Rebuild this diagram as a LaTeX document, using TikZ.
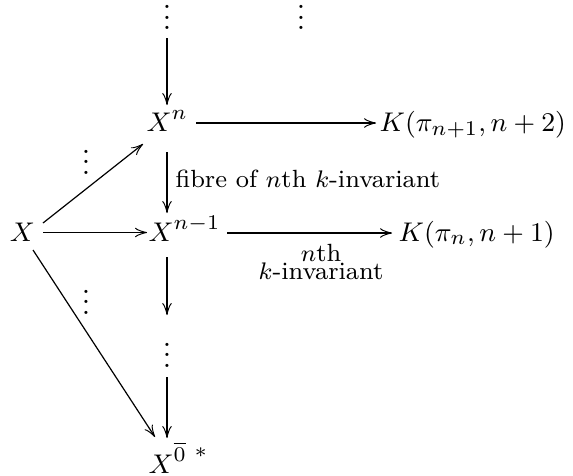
\documentclass[tikz,border=0pt]{standalone}
\usetikzlibrary{calc,arrows.meta}
\newcommand{\myvdots}{\vbox{\baselineskip3.5pt\lineskiplimit0pt\hbox{.}\hbox{.}\hbox{.}}}
\tikzset{
  obj/.style={inner sep=0pt, anchor=base west, font=\fontsize{9.5}{11}\selectfont},
  dotsnode/.style={inner sep=0pt, anchor=center},
  arr/.style={line width=0.4pt, -{Classical TikZ Rightarrow[length=4pt,width=3.2pt]}},
  lbl/.style={inner sep=0pt, font=\fontsize{8.3}{6}\selectfont}
}
\begin{document}
\begin{tikzpicture}[x=0.33333pt, y=-0.33333pt]
\useasboundingbox (0,0) rectangle (573,475);
% dots
\node[dotsnode] (d1) at (167,17.5) {\myvdots};
\node[dotsnode] (d2) at (301,17.5) {\myvdots};
\node[dotsnode] (d3) at (167,355) {\myvdots};
\node[dotsnode] (d4) at (86,162) {\myvdots};
\node[dotsnode] (d5) at (86,302) {\myvdots};
% objects
\node[obj, anchor=base] (Xl) at (22.5,241) {$X$};
\node[obj] (Xn) at (146,131) {$X^n$};
\node[obj] (Xn1) at (148,241) {$X^{n-1}$};
\node[obj] (X0) at (148,473) {$X^{\overline{0}\hspace{3pt}\raisebox{1.4pt}{$\scriptstyle *$}}$};
\node[obj] (K1) at (379,131) {$K(\pi_{n+1},n+2)$};
\node[obj] (K2) at (398,241) {$K(\pi_n,n+1)$};
% vertical arrows
\draw[arr] ($(d1)+(0,20.5)$) -- ($(Xn.base -| d1)+(0,-26)$);
\draw[arr] ($(Xn.base -| d1)+(0,21)$) -- ($(Xn1.base -| d1)+(0,-28)$);
\draw[arr] ($(Xn1.base -| d1)+(0,16)$) -- ($(d3)+(0,-40)$);
\draw[arr] ($(d3)+(0,22)$) -- ($(X0.base -| d1)+(0,-35)$);
% horizontal arrows
\draw[arr] ($(Xn.base west)+(50,-8)$) -- ($(K1.base west)+(-3,-8)$);
\draw[arr] ($(Xl.base)+(20.5,-8.5)$) -- ($(Xn1.base west)+(-1,-8.5)$);
\draw[arr] ($(Xn1.base west)+(79,-8)$) -- ($(K2.base west)+(-6,-8)$);
% diagonal arrows
\draw[arr] ($(Xl.base)+(20.5,-18)$) -- ($(Xn.base west)+(-3,13)$);
\draw[arr] ($(Xl.base)+(10.5,9)$) -- ($(X0.base west)+(7,-36)$);
% labels
\node[lbl, anchor=base west] (l1) at (175,187) {fibre of $n$th $k$-invariant};
\node[lbl, anchor=north, align=center] (l2) at (321,244) {$n$th\\$k$-invariant};
\end{tikzpicture}
\end{document}
